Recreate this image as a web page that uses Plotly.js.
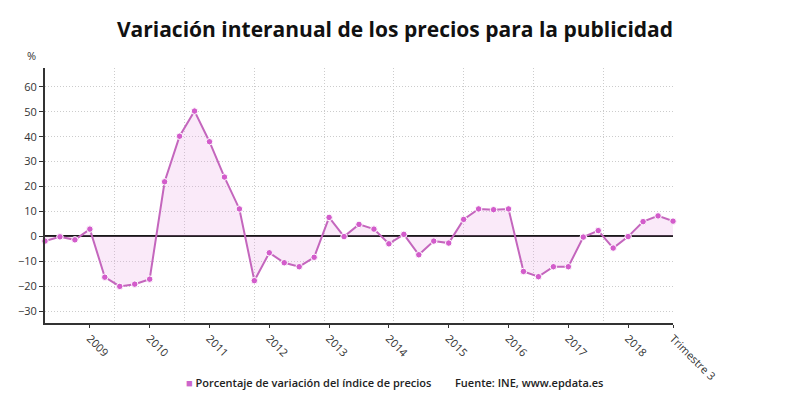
<!DOCTYPE html>
<html>
<head>
<meta charset="utf-8">
<script src="https://cdn.plot.ly/plotly-3.0.1.min.js"></script>
<style>
  html, body { margin: 0; padding: 0; background: #ffffff; }
  #chart { width: 790px; height: 420px; }
</style>
</head>
<body>
<div id="chart"></div>
<script>
// Quarterly periods, 2008 T1 to 2018 T3
const quarters = [
  "T1 2008", "T2 2008", "T3 2008", "T4 2008",
  "T1 2009", "T2 2009", "T3 2009", "T4 2009",
  "T1 2010", "T2 2010", "T3 2010", "T4 2010",
  "T1 2011", "T2 2011", "T3 2011", "T4 2011",
  "T1 2012", "T2 2012", "T3 2012", "T4 2012",
  "T1 2013", "T2 2013", "T3 2013", "T4 2013",
  "T1 2014", "T2 2014", "T3 2014", "T4 2014",
  "T1 2015", "T2 2015", "T3 2015", "T4 2015",
  "T1 2016", "T2 2016", "T3 2016", "T4 2016",
  "T1 2017", "T2 2017", "T3 2017", "T4 2017",
  "T1 2018", "T2 2018", "T3 2018"
];

// Year-on-year variation of advertising prices (%)
const variation = [
  -1.9, -0.2, -1.4, 2.9,
  -16.4, -20.1, -19.2, -17.2,
  21.9, 40.2, 50.3, 38.0,
  23.8, 11.0, -17.8, -6.6,
  -10.6, -12.2, -8.4, 7.6,
  -0.1, 4.8, 2.9, -3.0,
  0.8, -7.4, -1.9, -2.7,
  6.8, 11.0, 10.7, 11.0,
  -14.1, -16.2, -12.2, -12.2,
  -0.3, 2.3, -4.7, -0.1,
  5.9, 8.2, 6.1
];

// Labelled ticks on the time axis
const tickPeriods = ["T4 2008", "T4 2009", "T4 2010", "T4 2011", "T4 2012",
                     "T4 2013", "T4 2014", "T4 2015", "T4 2016", "T4 2017", "T3 2018"];
const tickLabels = ["2009", "2010", "2011", "2012", "2013",
                    "2014", "2015", "2016", "2017", "2018", "Trimestre 3"];

const seriesName = "Porcentaje de variación del índice de precios";
const sourceText = "Fuente: INE, www.epdata.es";

const lineColor = "#c466bd";
const markerColor = "#d35ccb";
const fillColor = "rgba(232,160,226,0.22)";
const gridColor = "#cccccc";
const font = "'Open Sans', 'Noto Sans', sans-serif";

const trace = {
  type: "scatter",
  mode: "lines+markers",
  name: seriesName,
  x: quarters,
  y: variation,
  fill: "tozeroy",
  fillcolor: fillColor,
  line: { color: lineColor, width: 2 },
  marker: { color: markerColor, size: 6.5, line: { color: "#ffffff", width: 1 } },
  cliponaxis: false,
  showlegend: false,
  hovertemplate: "%{x}: %{y}<extra></extra>"
};

const layout = {
  width: 790,
  height: 420,
  paper_bgcolor: "#ffffff",
  plot_bgcolor: "#ffffff",
  margin: { l: 45, r: 117, t: 68, b: 97 },
  font: { family: font, color: "#333333", size: 11 },
  title: {
    text: "Variación interanual de los precios para la publicidad",
    font: { family: font, size: 21, color: "#111111", weight: 700 },
    x: 0.5, xanchor: "center",
    y: 0.93, yanchor: "middle"
  },
  xaxis: {
    type: "category",
    range: [0, quarters.length - 1],
    tickmode: "array",
    tickvals: tickPeriods,
    ticktext: tickLabels,
    tickangle: 45,
    ticks: "outside",
    ticklen: 3,
    tickcolor: "#333333",
    showgrid: false,
    showline: true,
    linecolor: "#333333",
    linewidth: 2,
    zeroline: false,
    tickfont: { family: font, size: 11, color: "#333333" },
    fixedrange: true
  },
  // Vertical guide lines dividing the period into equal spans
  xaxis2: {
    overlaying: "x",
    range: [0, 9],
    tick0: 0,
    dtick: 1,
    showgrid: true,
    gridcolor: gridColor,
    griddash: "1px,2px",
    gridwidth: 1,
    showticklabels: false,
    ticks: "",
    showline: false,
    zeroline: false,
    fixedrange: true
  },
  yaxis: {
    range: [-34.8, 67.6],
    tick0: 0,
    dtick: 10,
    ticks: "outside",
    ticklen: 4,
    tickcolor: "#333333",
    showline: true,
    linecolor: "#333333",
    linewidth: 2,
    showgrid: true,
    gridcolor: gridColor,
    griddash: "1px,2px",
    gridwidth: 1,
    zeroline: true,
    zerolinecolor: "#1a1a1a",
    zerolinewidth: 2,
    tickfont: { family: font, size: 11, color: "#333333" },
    fixedrange: true
  },
  annotations: [
    {
      text: "%", xref: "paper", yref: "paper",
      x: -0.022, y: 1.05, xanchor: "center", yanchor: "middle",
      showarrow: false, font: { family: font, size: 11, color: "#333333" }
    },
    {
      text: "<span style='color:#cc66cc'>■</span> " + seriesName,
      xref: "paper", yref: "paper",
      x: 0.222, y: -0.233, xanchor: "left", yanchor: "middle",
      showarrow: false, font: { family: font, size: 11, color: "#222222", weight: 600 }
    },
    {
      text: sourceText,
      xref: "paper", yref: "paper",
      x: 0.65, y: -0.233, xanchor: "left", yanchor: "middle",
      showarrow: false, font: { family: font, size: 11, color: "#222222", weight: 600 }
    }
  ]
};

// Empty trace bound to the overlay axis so its guide lines are drawn
const guide = {
  type: "scatter", x: [], y: [], xaxis: "x2", yaxis: "y",
  showlegend: false, hoverinfo: "skip"
};

Plotly.newPlot("chart", [guide, trace], layout, { displayModeBar: false, staticPlot: true });
</script>
</body>
</html>
